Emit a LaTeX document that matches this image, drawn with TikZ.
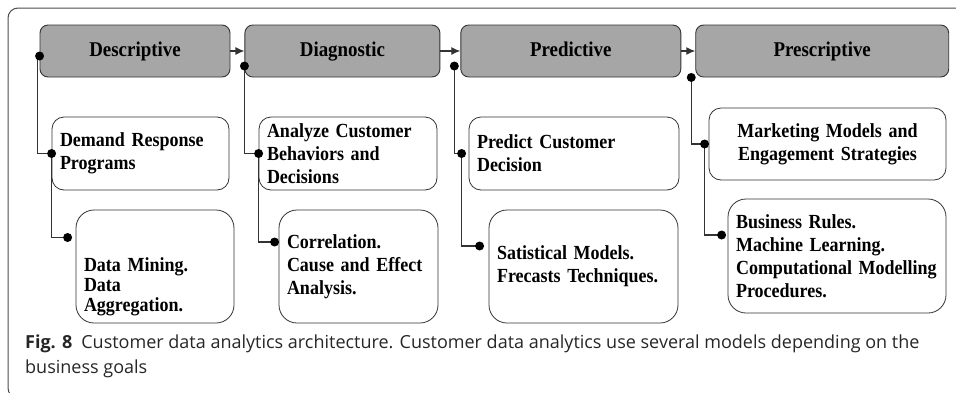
\documentclass[tikz,border=0pt]{standalone}
\usepackage{fontspec}
\newfontfamily\boxfont[FakeStretch=0.9, WordSpace=0.6]{Liberation Serif}
\newfontfamily\capfont{Open Sans}
\usetikzlibrary{positioning, arrows.meta}

\begin{document}
\begin{tikzpicture}[x=1pt, y=-1pt,
    head/.style={draw=black!80, fill=black!35, rounded corners=8pt,
                 line width=0.9pt, minimum height=52pt, inner sep=0pt,
                 text height=15pt, text depth=5pt,
                 font=\boxfont\bfseries\fontsize{21}{24}\selectfont},
    item/.style={draw=black!80, fill=white, rounded corners=12pt,
                 line width=0.8pt, inner xsep=8pt, inner ysep=0pt, align=left,
                 font=\boxfont\bfseries\fontsize{20}{23}\selectfont},
    tool/.style={item, rounded corners=18pt},
    wire/.style={draw=black!80, line width=1.2pt},
    flow/.style={wire, -{Latex[length=9pt,width=8pt]}}]

    \useasboundingbox (0,0) rectangle (956,392);
    \draw[black!70, line width=1pt, rounded corners=10pt] (8,8) rectangle (975,398);

    % stages
    \node[head, minimum width=190pt] (desc) at (135,51) {Descriptive};
    \node[head, minimum width=195pt, right=14pt of desc] (diag) {Diagnostic};
    \node[head, minimum width=220pt, right=20pt of diag] (pred) {Predictive};
    \node[head, minimum width=253pt, right=14pt of pred] (presc) {Prescriptive};

    \draw[flow] (desc) -- (diag);
    \draw[flow] (diag) -- (pred);
    \draw[flow] (pred) -- (presc);

    % goals
    \node[item, text width=161pt, minimum height=73pt] (dr) at (140.5,153.5)
        {Demand Response\\Programs};
    \node[item, text width=162pt, minimum height=73pt] (acb) at (348,153.5)
        {Analyze Customer\\Behaviors and\\Decisions};
    \node[item, text width=194pt, minimum height=73pt] (pcd) at (574,153.5)
        {Predict Customer\\Decision};
    \node[item, text width=221pt, minimum height=72pt, align=center] (mm) at (827.5,144)
        {Marketing Models and\\Engagement Strategies};

    % methods
    \node[tool, text width=142pt, minimum height=113pt,
          font=\boxfont\bfseries\fontsize{20}{20}\selectfont] (dm) at (155,266.5)
        {\mbox{}\\[35pt]Data Mining.\\Data\\Aggregation.};
    \node[tool, text width=143pt, minimum height=113pt] (cor) at (358.5,266.5)
        {Correlation.\\Cause and Effect\\Analysis.};
    \node[tool, text width=173pt, minimum height=113pt] (sm) at (583.5,266.5)
        {Satistical Models.\\Frecasts Techniques.};
    \node[tool, text width=202pt, minimum height=114pt] (br) at (837,256)
        {Business Rules.\\Machine Learning.\\\mbox{Computational Modelling}\\Procedures.};

    % links
    \coordinate (desc-out) at ([yshift=-5pt]desc.west);
    \coordinate (dm-in) at ([xshift=-8pt, yshift=29pt]dm.west);
    \coordinate (diag-out) at ([yshift=-15pt]diag.west);
    \coordinate (cor-in) at ([xshift=-4pt, yshift=24.5pt]cor.west);
    \coordinate (pred-out) at ([xshift=-6pt, yshift=-15pt]pred.west);
    \coordinate (pcd-in) at ([xshift=-7pt]pcd.west);
    \coordinate (sm-in) at ([xshift=-9pt, yshift=20.5pt]sm.west);
    \coordinate (presc-out) at ([xshift=-4pt]presc.south west);
    \coordinate (mm-in) at ([xshift=-4pt]mm.west);
    \coordinate (br-in) at ([xshift=-6pt, yshift=21pt]br.west);

    \draw[wire] (desc-out) -- ++(-2,0) |- (dr.west);
    \draw[wire] (dr.west) |- (dm-in);
    \draw[wire] (diag-out) |- (acb.west);
    \draw[wire] (acb.west) |- (cor-in);
    \draw[wire] (pred-out) |- (pcd-in);
    \draw[wire] (pcd-in) |- (sm-in);
    \draw[wire] (presc-out) |- (mm-in);
    \draw[wire] (mm-in) |- (br-in);

    \foreach \p in {desc-out, dr.west, dm-in, diag-out, acb.west, cor-in,
                    pred-out, pcd-in, sm-in, presc-out, mm-in, br-in}
        \fill[black] (\p) circle (4.5pt);

    % caption
    \node[font=\capfont\fontsize{18}{25}\selectfont, text=black!85,
          anchor=base west, align=left, inner sep=0pt] (cap) at (25,373)
        {\textbf{Fig. 8}\hspace{0.5em}Customer data analytics architecture. Customer data analytics use several models depending on the\\business goals};
\end{tikzpicture}
\end{document}
